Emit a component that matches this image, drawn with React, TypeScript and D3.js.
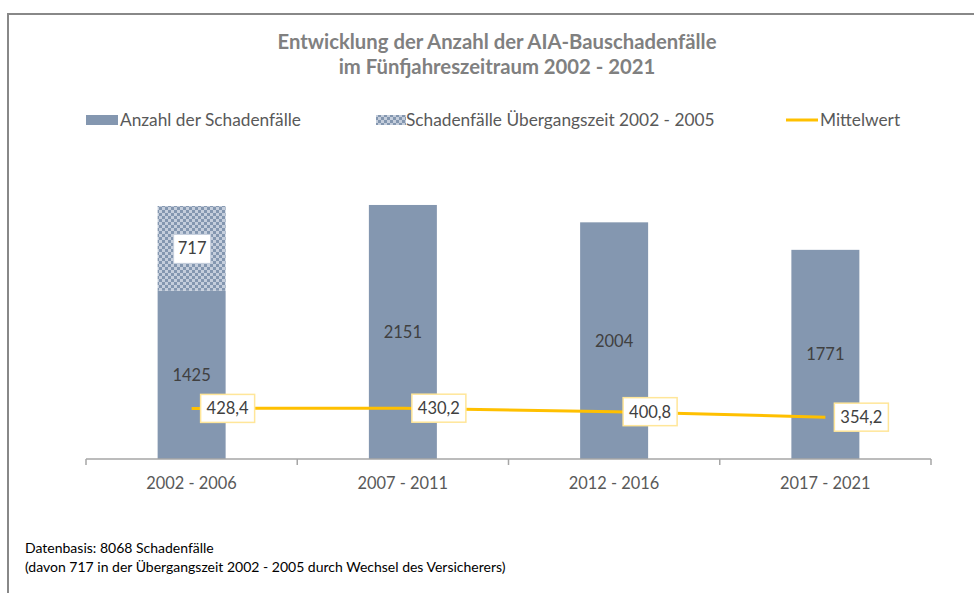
import React from "react";
import * as d3 from "d3";

const categories = ["2002 - 2006", "2007 - 2011", "2012 - 2016", "2017 - 2021"];
const schadenfaelle = [1425, 2151, 2004, 1771];
const uebergang = [717, 0, 0, 0];
const mittelwert = [428.4, 430.2, 400.8, 354.2];
const mittelLabels = ["428,4", "430,2", "400,8", "354,2"];
const titleLines = ["Entwicklung der Anzahl der AIA-Bauschadenfälle", "im Fünfjahreszeitraum 2002 - 2021"];
const legendItems = ["Anzahl der Schadenfälle", "Schadenfälle Übergangszeit 2002 - 2005", "Mittelwert"];
const footnotes = ["Datenbasis: 8068 Schadenfälle", "(davon 717 in der Übergangszeit 2002 - 2005 durch Wechsel des Versicherers)"];

const W = 974;
const H = 593;
const FONT = "Lato, 'Open Sans', sans-serif";
const BAR = "#8497B0";
const GOLD = "#FFC000";
const TXT = "#595959";

export default function App() {
  const x = d3.scaleBand().domain(categories).range([86, 931]).paddingInner(0).paddingOuter(0);
  const y = d3.scaleLinear().domain([0, 2500]).range([459, 163.75]);
  const bw = 68;
  const cx = (c: string) => (x(c) as number) + x.bandwidth() / 2;
  const ticks = d3.range(categories.length + 1).map((i) => 86 + i * x.bandwidth());
  const line = d3
    .line<number>()
    .x((_, i) => cx(categories[i]))
    .y((d) => y(d));

  return (
    <svg width={W} height={H} style={{ position: "absolute", left: 0, top: 0, background: "#fff" }}>
      <defs>
        <pattern id="chk" width="6" height="6" patternUnits="userSpaceOnUse">
          <rect width="6" height="6" fill="#C5CEDC" />
          <rect x="0" y="0" width="3" height="3" fill={BAR} />
          <rect x="3" y="3" width="3" height="3" fill={BAR} />
        </pattern>
      </defs>
      <rect width={W} height={H} fill="#fff" />
      {/* frame */}
      <path d={`M8,${H} L8,14 L${W},14`} fill="none" stroke="#888" strokeWidth={2} />

      {/* title */}
      {titleLines.map((t, i) => (
        <text key={i} x={497} y={49 + i * 25} textAnchor="middle" fontFamily={FONT} fontWeight="bold" fontSize={20.3} fill="#808080">
          {t}
        </text>
      ))}

      {/* legend */}
      <rect x={86} y={115} width={32} height={10} fill={BAR} />
      <text x={120} y={126} fontFamily={FONT} fontSize={17.3} fill={TXT}>{legendItems[0]}</text>
      <rect x={376} y={115} width={30} height={10} fill="url(#chk)" />
      <text x={406} y={126} fontFamily={FONT} fontSize={17.3} fill={TXT}>{legendItems[1]}</text>
      <line x1={786} x2={818} y1={120} y2={120} stroke={GOLD} strokeWidth={3} />
      <text x={820} y={126} fontFamily={FONT} fontSize={17.3} fill={TXT}>{legendItems[2]}</text>

      {/* bars */}
      {categories.map((c, i) => (
        <g key={c}>
          <rect x={cx(c) - bw / 2} y={y(schadenfaelle[i])} width={bw} height={y(0) - y(schadenfaelle[i])} fill={BAR} />
          {uebergang[i] > 0 && (
            <rect
              x={cx(c) - bw / 2}
              y={y(schadenfaelle[i] + uebergang[i])}
              width={bw}
              height={y(0) - y(uebergang[i])}
              fill="url(#chk)"
            />
          )}
          <text x={cx(c)} y={(y(0) + y(schadenfaelle[i])) / 2 + 6} textAnchor="middle" fontFamily={FONT} fontSize={16.5} fill="#404040">
            {schadenfaelle[i]}
          </text>
          {uebergang[i] > 0 && (
            <g>
              <rect
                x={cx(c) - 18}
                y={(y(schadenfaelle[i]) + y(schadenfaelle[i] + uebergang[i])) / 2 - 14}
                width={37}
                height={29}
                fill="#fff"
                stroke="#C5CEDC"
                strokeWidth={1}
              />
              <text
                x={cx(c) + 0.5}
                y={(y(schadenfaelle[i]) + y(schadenfaelle[i] + uebergang[i])) / 2 + 6}
                textAnchor="middle"
                fontFamily={FONT}
                fontSize={16.5}
                fill="#404040"
              >
                {uebergang[i]}
              </text>
            </g>
          )}
        </g>
      ))}

      {/* axis */}
      <line x1={86} x2={931} y1={459} y2={459} stroke="#A6A6A6" strokeWidth={1.5} />
      {ticks.map((t, i) => (
        <line key={i} x1={t} x2={t} y1={459} y2={465} stroke="#A6A6A6" strokeWidth={1.5} />
      ))}
      {categories.map((c) => (
        <text key={c} x={cx(c)} y={489} textAnchor="middle" fontFamily={FONT} fontSize={16.4} fill={TXT}>
          {c}
        </text>
      ))}

      {/* mean line */}
      <path d={line(mittelwert) || ""} fill="none" stroke={GOLD} strokeWidth={3} />
      {categories.map((c, i) => (
        <g key={c}>
          <rect x={cx(c) + 9} y={y(mittelwert[i]) - 14} width={54} height={28} fill="#fff" stroke="#FFE699" strokeWidth={1.5} />
          <text x={cx(c) + 36} y={y(mittelwert[i]) + 6} textAnchor="middle" fontFamily={FONT} fontSize={16.5} fill="#404040">
            {mittelLabels[i]}
          </text>
        </g>
      ))}

      {/* footnotes */}
      {footnotes.map((f, i) => (
        <text key={i} x={25} y={553 + i * 19} fontFamily={FONT} fontSize={14} fill="#000">
          {f}
        </text>
      ))}
    </svg>
  );
}
